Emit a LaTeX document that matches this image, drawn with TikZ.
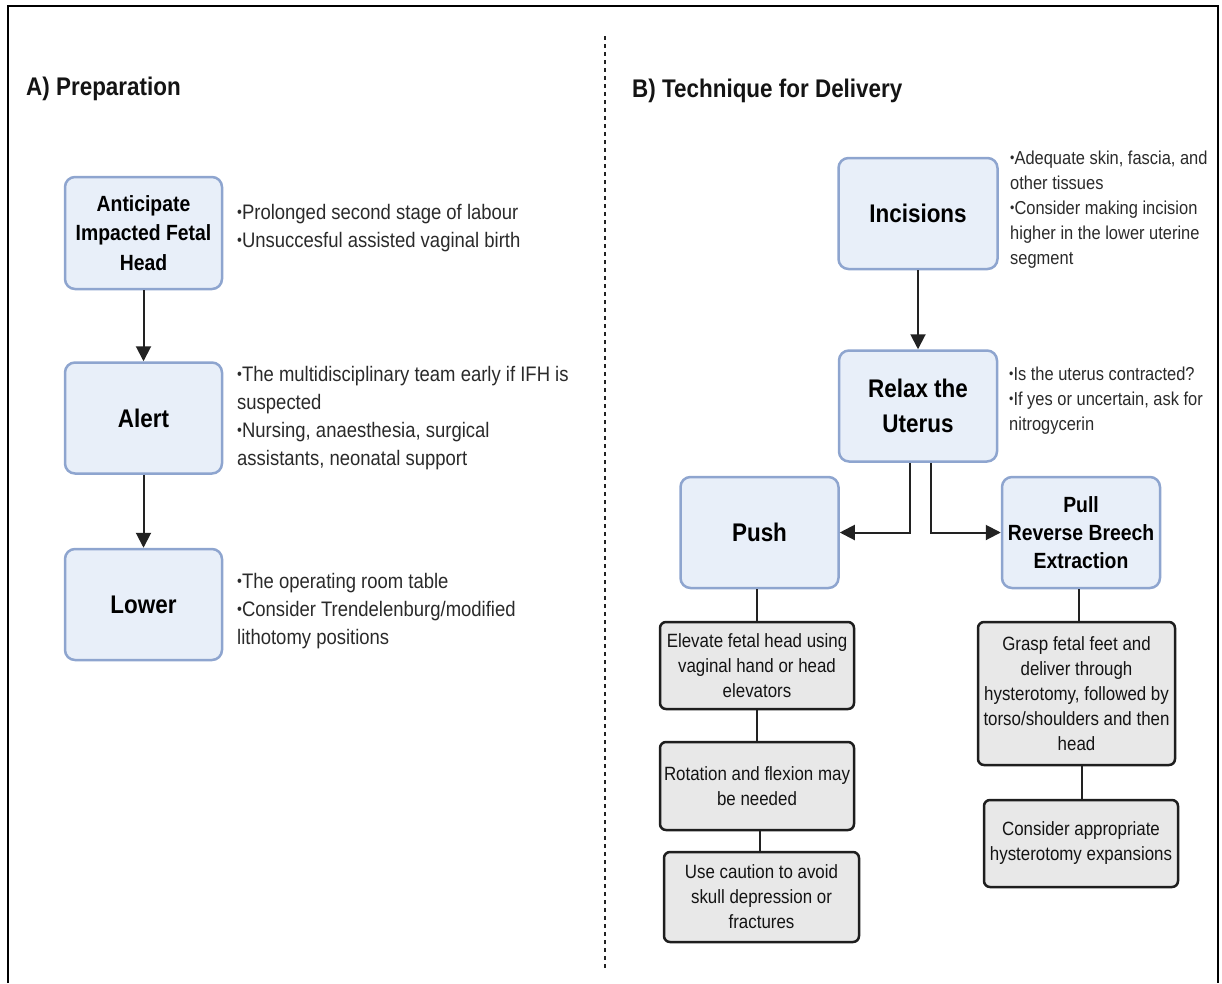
\documentclass[tikz,border=0pt]{standalone}
\usepackage{fontspec}
\setmainfont{Liberation Sans}[FakeStretch=0.88]
\usetikzlibrary{arrows.meta}
\definecolor{bfill}{HTML}{E8EFF9}
\definecolor{bdraw}{HTML}{8EA5CF}
\definecolor{gfill}{HTML}{E8E8E8}
\definecolor{gdraw}{HTML}{1E1E1E}
\definecolor{txt}{HTML}{2A2A2A}
\definecolor{lin}{HTML}{222222}
\newcommand\bu{\raisebox{0.1em}{\scalebox{0.75}{•}}}
\tikzset{
 bluebox/.style={draw=bdraw, fill=bfill, line width=2.5pt, rounded corners=10pt, align=center, inner sep=2pt, font=\bfseries\fontsize{25.5}{35}\selectfont, text=black},
 smallblue/.style={bluebox, font=\bfseries\fontsize{22}{29.5}\selectfont},
 greybox/.style={draw=gdraw, fill=gfill, line width=2.5pt, rounded corners=6pt, align=center, inner sep=1pt, font=\fontsize{19.2}{25}\selectfont, text=black!92},
 btext/.style={anchor=north west, inner sep=0pt, align=left, text=txt, font=\fontsize{21}{28}\selectfont},
 rtext/.style={btext, font=\fontsize{18.7}{25}\selectfont},
 paneltitle/.style={anchor=north west, inner sep=0pt, font=\bfseries\fontsize{25.5}{30}\selectfont, text=black!92},
 arr/.style={line width=2pt, draw=lin, -{Triangle[length=15pt,width=15pt]}},
 conn/.style={line width=2pt, draw=lin},
}
\begin{document}
\begin{tikzpicture}[x=1pt,y=-1pt]
\useasboundingbox (0,0) rectangle (1222,983);
% frame
\coordinate (f1) at (8,983);
\coordinate (f2) at (8,6);
\coordinate (f3) at (1218,6);
\coordinate (f4) at (1218,983);
\draw[line width=2pt] (f1) -- (f2) -- (f3) -- (f4);
% divider
\coordinate (d1) at (605,36);
\coordinate (d2) at (605,968);
\draw[line width=2pt, draw=lin, dash pattern=on 4pt off 4pt] (d1) -- (d2);
% titles
\node[paneltitle] (titA) at (26,77) {A) Preparation};
\node[paneltitle] (titB) at (632,79) {B) Technique for Delivery};
% left boxes
\node[smallblue, minimum width=157pt, minimum height=112pt] (ant) at (143.5,233) {Anticipate\\Impacted Fetal\\Head};
\node[bluebox, minimum width=157pt, minimum height=111pt] (alert) at (143.5,418) {Alert};
\node[bluebox, minimum width=157pt, minimum height=111pt] (lower) at (143.5,604.5) {Lower};
\draw[arr] (ant) -- (alert);
\draw[arr] (alert) -- (lower);
% left texts
\node[btext] (tA) at (237,204) {\bu Prolonged second stage of labour\\\bu Unsuccesful assisted vaginal birth};
\node[btext] (tB) at (237,366) {\bu The multidisciplinary team early if IFH is\\suspected\\\bu Nursing, anaesthesia, surgical\\assistants, neonatal support};
\node[btext] (tC) at (237,573) {\bu The operating room table\\\bu Consider Trendelenburg/modified\\lithotomy positions};
% right boxes
\node[bluebox, minimum width=159pt, minimum height=111pt] (inc) at (918,213.5) {Incisions};
\node[bluebox, minimum width=158pt, minimum height=111pt] (relax) at (918,406) {Relax the\\Uterus};
\node[bluebox, minimum width=158pt, minimum height=111pt] (push) at (759.5,532.5) {Push};
\node[smallblue, minimum width=158pt, minimum height=111pt, font=\bfseries\fontsize{22}{28}\selectfont] (pull) at (1081,532.5) {Pull\\Reverse Breech\\Extraction};
\draw[arr] (inc) -- (relax);
\draw[arr] ([xshift=-8pt]relax.south) |- (push.east);
\draw[arr] ([xshift=13pt]relax.south) |- (pull.west);
% right texts
\node[rtext] (tD) at (1010,151) {\bu Adequate skin, fascia, and\\other tissues\\\bu Consider making incision\\higher in the lower uterine\\segment};
\node[rtext] (tE) at (1009,367) {\bu Is the uterus contracted?\\\bu If yes or uncertain, ask for\\nitrogycerin};
% grey boxes
\node[greybox, minimum width=194pt, minimum height=87pt] (g1) at (757,665.5) {Elevate fetal head using\\vaginal hand or head\\elevators};
\node[greybox, minimum width=194pt, minimum height=88pt] (g2) at (757,786) {Rotation and flexion may\\be needed};
\node[greybox, minimum width=195pt, minimum height=90pt] (g3) at (761.5,897) {Use caution to avoid\\skull depression or\\fractures};
\node[greybox, minimum width=197pt, minimum height=143pt] (g4) at (1076.5,693.5) {Grasp fetal feet and\\deliver through\\hysterotomy, followed by\\torso/shoulders and then\\head};
\node[greybox, minimum width=194pt, minimum height=87pt] (g5) at (1081,843.5) {Consider appropriate\\hysterotomy expansions};
\draw[conn] ([xshift=-2.5pt]push.south) -- ([xshift=-2.5pt]push.south |- g1.north);
\draw[conn] (g1.south) -- (g2.north);
\draw[conn] ([xshift=-1.5pt]g3.north |- g2.south) -- ([xshift=-1.5pt]g3.north);
\draw[conn] ([xshift=-2pt]pull.south) -- ([xshift=-2pt]pull.south |- g4.north);
\draw[conn] ([xshift=5.5pt]g4.south) -- ([xshift=5.5pt]g4.south |- g5.north);
\end{tikzpicture}
\end{document}
